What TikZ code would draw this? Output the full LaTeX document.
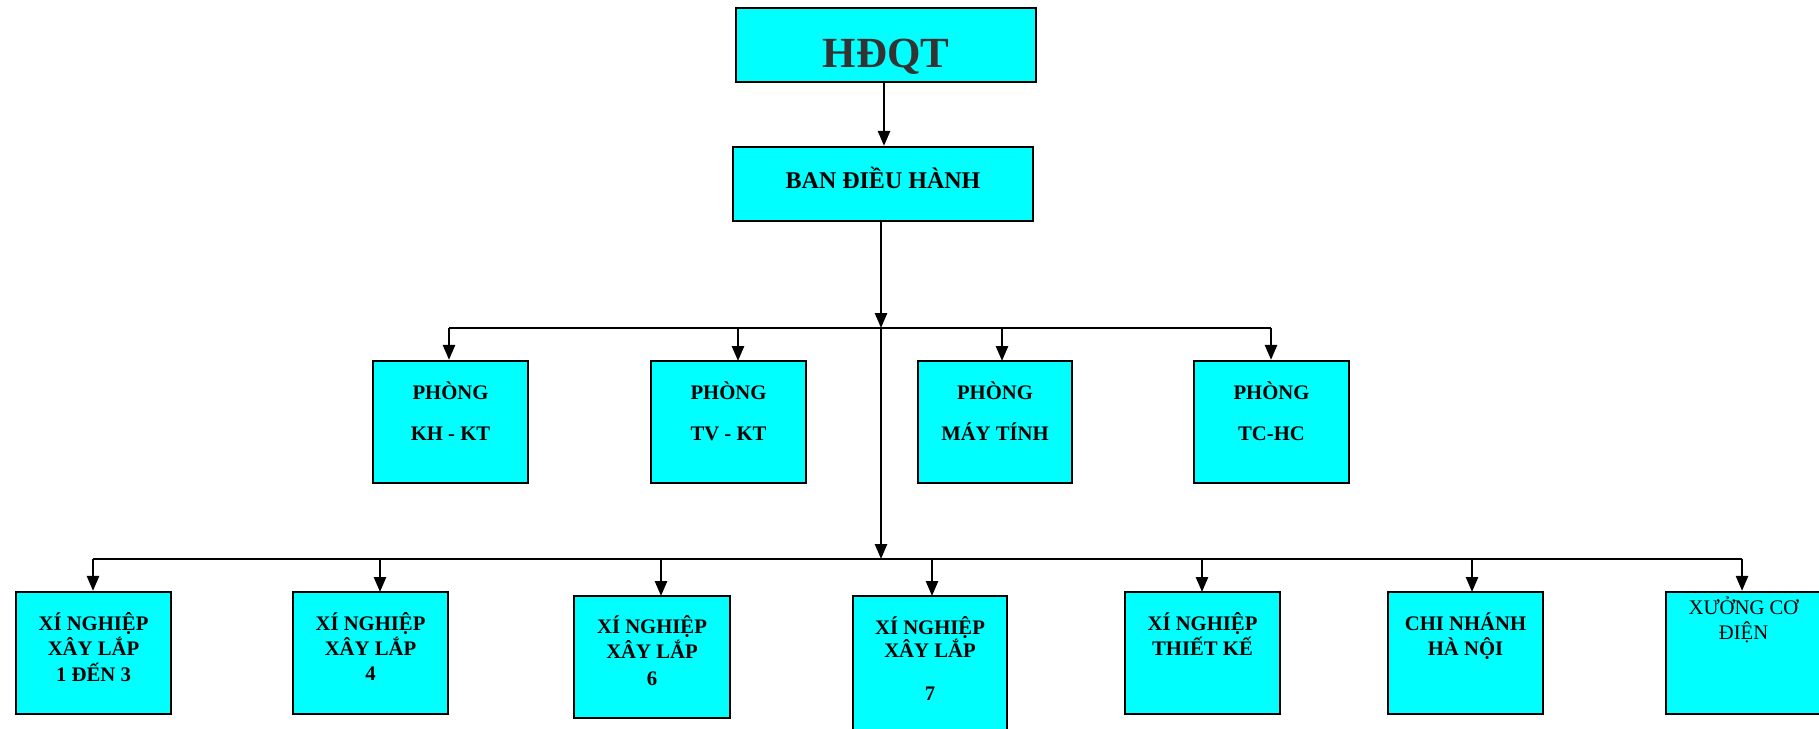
\documentclass[tikz,border=0pt]{standalone}
\usepackage{fontspec}
\setmainfont{Liberation Serif}
\usetikzlibrary{arrows.meta}
\definecolor{boxfill}{HTML}{00FFFF}
\definecolor{titlegray}{HTML}{333333}
\tikzset{
  unit/.style={draw=black, line width=2.2pt, fill=boxfill, inner sep=0pt},
  lbl/.style={anchor=base, inner sep=0pt, font=\fontsize{20.7}{25}\selectfont\bfseries},
  lblwide/.style={lbl, font=\fontsize{20.7}{41}\selectfont\bfseries},
  lblplain/.style={lbl, font=\fontsize{20.7}{25}\selectfont},
  wire/.style={line width=2.2pt},
  feed/.style={line width=2.6pt, -{Triangle[length=15pt,width=12pt]}}
}
\newcommand{\stack}[1]{\begin{tabular}[t]{@{}c@{}}#1\end{tabular}}
\begin{document}
\begin{tikzpicture}[x=1pt,y=-1pt]
\useasboundingbox (0,0) rectangle (1819,728);

% top management
\node[unit, minimum width=300pt, minimum height=74pt] (hdqt) at (886,45) {};
\node[anchor=base, inner sep=0pt, text=titlegray, font=\fontsize{43}{50}\selectfont\bfseries] (hdqt-t) at (886,67) {HĐQT};
\node[unit, minimum width=300pt, minimum height=74pt] (ban) at (883,184) {};
\node[anchor=base, inner sep=0pt, font=\fontsize{24}{28}\selectfont\bfseries] (ban-t) at (883,188) {BAN ĐIỀU HÀNH};

% departments
\node[unit, minimum width=155pt, minimum height=122pt] (kh)  at (450.5,422) {};
\node[unit, minimum width=155pt, minimum height=122pt] (tv)  at (728.5,422) {};
\node[unit, minimum width=154pt, minimum height=122pt] (may) at (995,422) {};
\node[unit, minimum width=155pt, minimum height=122pt] (tc)  at (1271.5,422) {};
\node[lblwide] (kh-t)  at (450.5,399) {\stack{PHÒNG\\KH - KT}};
\node[lblwide] (tv-t)  at (728.5,399) {\stack{PHÒNG\\TV - KT}};
\node[lblwide] (may-t) at (995,399)   {\stack{PHÒNG\\MÁY TÍNH}};
\node[lblwide] (tc-t)  at (1271.5,399) {\stack{PHÒNG\\TC-HC}};

% enterprises and branches
\node[unit, minimum width=155pt, minimum height=122pt] (x1) at (93.5,653) {};
\node[unit, minimum width=155pt, minimum height=122pt] (x4) at (370.5,653) {};
\node[unit, minimum width=156pt, minimum height=122pt] (x6) at (652,657) {};
\node[unit, minimum width=154pt, minimum height=140pt] (x7) at (930,666) {};
\node[unit, minimum width=155pt, minimum height=122pt] (tk) at (1202.5,653) {};
\node[unit, minimum width=155pt, minimum height=122pt] (cn) at (1465.5,653) {};
\node[unit, minimum width=155pt, minimum height=122pt] (xd) at (1743.5,653) {};
\node[lbl] (x1-t) at (93.5,630)  {\stack{XÍ NGHIỆP\\XÂY LẮP\\1 ĐẾN 3}};
\node[lbl] (x4-t) at (370.5,630) {\stack{XÍ NGHIỆP\\XÂY LẮP\\4}};
\node[lbl] (x6-t) at (652,633)   {\stack{XÍ NGHIỆP\\XÂY LẮP\\[2pt]6}};
\node[lbl] (x7-t) at (930,634)   {\stack{XÍ NGHIỆP\\[-2pt]XÂY LẮP\\[18pt]7}};
\node[lbl] (tk-t) at (1202.5,630) {\stack{XÍ NGHIỆP\\THIẾT KẾ}};
\node[lbl] (cn-t) at (1465.5,630) {\stack{CHI NHÁNH\\HÀ NỘI}};
\node[lblplain] (xd-t) at (1743.5,614) {\stack{XƯỞNG CƠ\\ĐIỆN}};

% junctions on the two distribution lines
\coordinate (j1) at (881,328);
\coordinate (j2) at (881,559);
\coordinate (b1l) at (449,328);
\coordinate (b1r) at (1271,328);
\coordinate (b2l) at (93,559);
\coordinate (b2r) at (1742,559);

% connectors
\draw[feed] (hdqt.south -| 884,0) -- (ban.north -| 884,0);
\draw[feed] (ban.south -| j1) -- (j1);
\draw[feed] (j1) -- (j2);
\draw[wire] (b1l) -- (b1r);
\draw[wire] (b2l) -- (b2r);

\draw[feed] (b1l) -- (b1l |- kh.north);
\draw[feed] (738,328) -- (738,361);
\draw[feed] (1002,328) -- (1002,361);
\draw[feed] (b1r) -- (b1r |- tc.north);

\draw[feed] (b2l) -- (b2l |- x1.north);
\draw[feed] (380,559) -- (380,592);
\draw[feed] (661,559) -- (661,596);
\draw[feed] (932,559) -- (932,596);
\draw[feed] (1202,559) -- (1202,592);
\draw[feed] (1472,559) -- (1472,592);
\draw[feed] (b2r) -- (b2r |- xd.north);
\end{tikzpicture}
\end{document}
